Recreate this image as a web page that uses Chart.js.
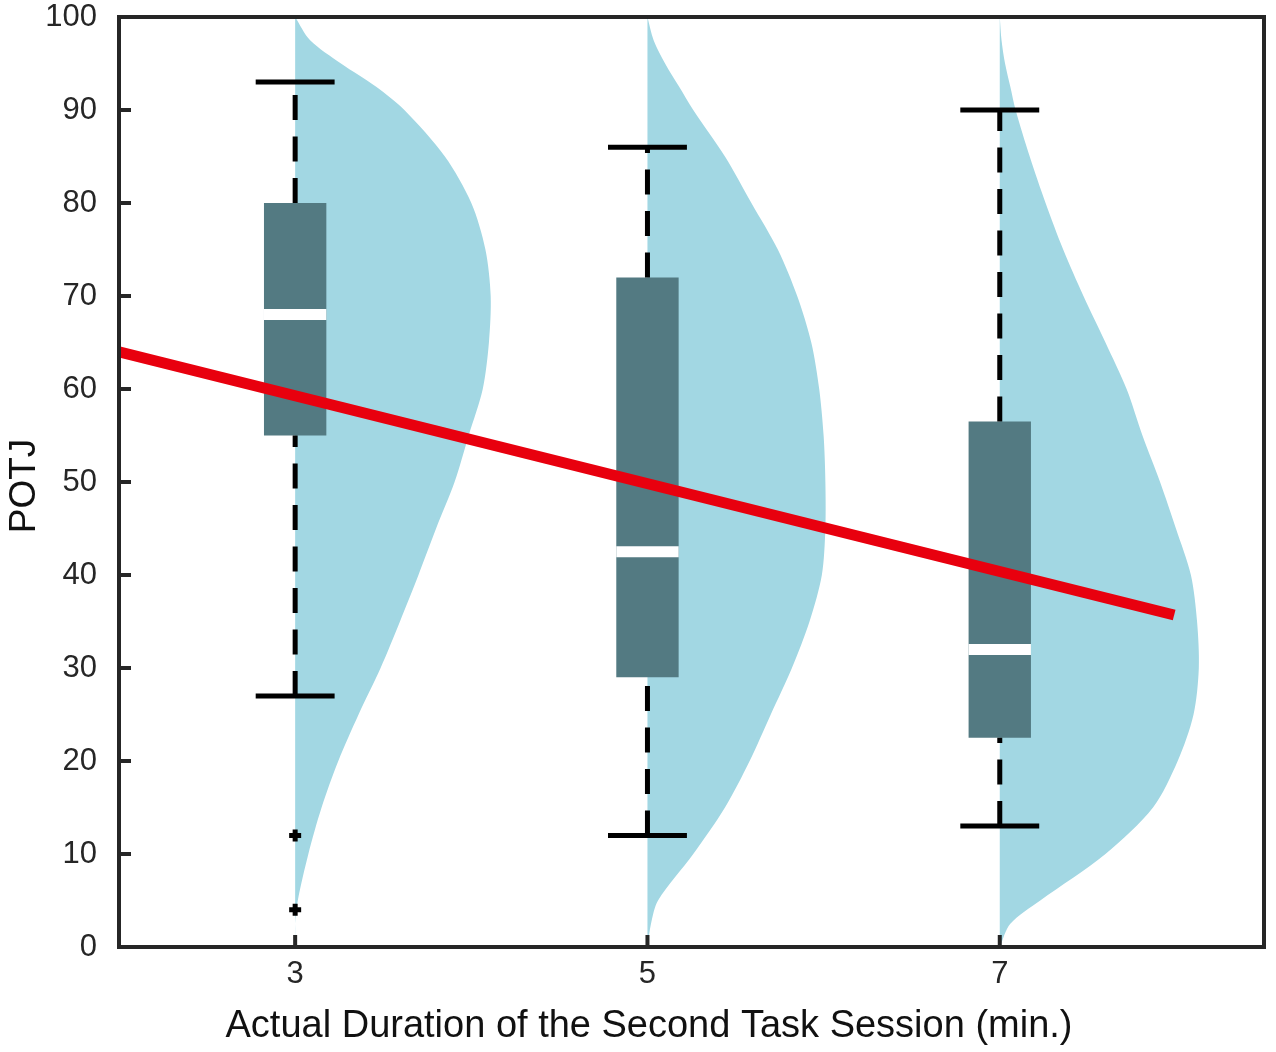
<!DOCTYPE html>
<html>
<head>
<meta charset="utf-8">
<script src="https://cdn.jsdelivr.net/npm/chart.js@4.4.1/dist/chart.umd.min.js"></script>
<style>
    html, body { margin: 0; padding: 0; background: #fff; }
    #wrap { width: 1276px; height: 1052px; }
</style>
</head>
<body>
<div id="wrap"><canvas id="grafico"></canvas></div>
<script>
// categorias (duração em min.)
const duracoes = [3, 5, 7];

// boxplot
const q1 = [55, 29, 22.5];
const q3 = [80, 72, 56.5];
const medianas = [68, 42.5, 32];
const bigodeMin = [27, 12, 13];
const bigodeMax = [93, 86, 90];
const outliersX = [3, 3];
const outliersY = [12, 4];

// meio-violino: largura (em unidades do eixo x) em cada nível de POTJ
const niveis = [0, 2.5, 5, 10, 15, 20, 25, 30, 35, 40, 45, 50, 55, 60, 65, 70, 75, 80, 85, 90, 92.5, 95, 97.5, 100];
const violino3 = [0, 0, 0.015, 0.075, 0.15, 0.245, 0.36, 0.485, 0.595, 0.70, 0.80, 0.905, 0.985, 1.065, 1.10, 1.11, 1.08, 1.0, 0.85, 0.62, 0.46, 0.26, 0.085, 0];
const violino5 = [0, 0.02, 0.06, 0.26, 0.44, 0.58, 0.70, 0.82, 0.92, 0.99, 1.01, 1.01, 1.00, 0.975, 0.93, 0.85, 0.74, 0.59, 0.44, 0.26, 0.18, 0.10, 0.035, 0];
const violino7 = [0, 0.06, 0.23, 0.60, 0.87, 1.01, 1.10, 1.13, 1.12, 1.085, 1.00, 0.91, 0.81, 0.72, 0.60, 0.475, 0.36, 0.26, 0.17, 0.09, 0.06, 0.03, 0.01, 0];
const violinos = [violino3, violino5, violino7];

// reta de tendência
const tendenciaX = [2, 7.99];
const tendenciaY = [64.0, 35.7];

const yTicks = [0, 10, 20, 30, 40, 50, 60, 70, 80, 90, 100];
const tituloX = 'Actual Duration of the Second Task Session (min.)';
const tituloY = 'POTJ';

const corViolino = '#a2d7e3';
const corCaixa = '#537a82';
const corEixo = '#262626';
const fonte = '"Liberation Sans", Arial, Helvetica, sans-serif';
const meiaCaixa = 0.177;
const meiaTampa = 0.224;
const tracejado = [25, 16.5];

function linha(pts, cor, largura, extra) {
    return Object.assign({
        type: 'line',
        data: pts,
        showLine: true,
        borderColor: cor,
        borderWidth: largura,
        borderCapStyle: 'butt',
        pointRadius: 0,
        fill: false,
        tension: 0
    }, extra || {});
}

function montaDatasets() {
    let ds = [];

    // tendência por cima de tudo
    ds.push(linha(tendenciaX.map((x, i) => ({ x: x, y: tendenciaY[i] })), '#e8000e', 11, { order: 0 }));

    ds.push({
        type: 'scatter',
        data: outliersX.map((x, i) => ({ x: x, y: outliersY[i] })),
        pointStyle: 'cross',
        pointRadius: 6,
        borderColor: '#000',
        pointBorderWidth: 5,
        order: 1
    });

    duracoes.forEach((c, i) => {
        ds.push(linha([{ x: c, y: q3[i] }, { x: c, y: bigodeMax[i] }], '#000', 5, { borderDash: tracejado, order: 2 }));
        ds.push(linha([{ x: c, y: bigodeMin[i] }, { x: c, y: q1[i] }], '#000', 5, { borderDash: tracejado, order: 2 }));
        ds.push(linha([{ x: c - meiaTampa, y: bigodeMax[i] }, { x: c + meiaTampa, y: bigodeMax[i] }], '#000', 5, { order: 2 }));
        ds.push(linha([{ x: c - meiaTampa, y: bigodeMin[i] }, { x: c + meiaTampa, y: bigodeMin[i] }], '#000', 5, { order: 2 }));

        ds.push(linha([{ x: c - meiaCaixa, y: medianas[i] }, { x: c + meiaCaixa, y: medianas[i] }], '#fff', 11, { order: 3 }));

        ds.push(linha([
            { x: c - meiaCaixa, y: q1[i] },
            { x: c + meiaCaixa, y: q1[i] },
            { x: c + meiaCaixa, y: q3[i] },
            { x: c - meiaCaixa, y: q3[i] }
        ], corCaixa, 0, { fill: 'shape', backgroundColor: corCaixa, order: 4 }));

        ds.push(linha(niveis.map((y, k) => ({ x: c + violinos[i][k], y: y })), corViolino, 0,
            { fill: 'shape', backgroundColor: corViolino, tension: 0.3, order: 5 }));
    });
    return ds;
}

// moldura, marcas internas dos eixos e títulos
const moldura = {
    id: 'moldura',
    afterDraw(chart) {
        const ctx = chart.ctx;
        const a = chart.chartArea;
        ctx.save();
        ctx.strokeStyle = corEixo;
        ctx.lineWidth = 4;
        ctx.beginPath();
        duracoes.forEach(v => {
            const px = chart.scales.x.getPixelForValue(v);
            ctx.moveTo(px, a.bottom);
            ctx.lineTo(px, a.bottom - 12);
        });
        yTicks.forEach(v => {
            const py = chart.scales.y.getPixelForValue(v);
            ctx.moveTo(a.left, py);
            ctx.lineTo(a.left + 12, py);
        });
        ctx.stroke();
        ctx.strokeRect(a.left, a.top, a.right - a.left, a.bottom - a.top);

        ctx.fillStyle = '#111';
        ctx.font = '38px ' + fonte;
        ctx.textAlign = 'center';
        ctx.textBaseline = 'alphabetic';
        ctx.fillText(tituloX, 649, 1037);

        ctx.font = '37px ' + fonte;
        ctx.translate(35, 486);
        ctx.rotate(-Math.PI / 2);
        ctx.fillText(tituloY, 0, 0);
        ctx.restore();
    }
};

document.addEventListener("DOMContentLoaded", () => {
    new Chart(document.getElementById("grafico"), {
        type: 'scatter',
        data: { datasets: montaDatasets() },
        options: {
            responsive: true,
            maintainAspectRatio: false,
            animation: false,
            events: [],
            layout: { padding: { top: 0, right: 12, left: 0, bottom: 0 } },
            plugins: {
                legend: { display: false },
                tooltip: { enabled: false }
            },
            scales: {
                x: {
                    type: 'linear',
                    min: 2,
                    max: 8.5,
                    grid: { display: false, drawTicks: false },
                    border: { display: false },
                    afterBuildTicks: s => { s.ticks = duracoes.map(v => ({ value: v })); },
                    afterFit: s => { s.height = 105; s.paddingLeft = 0; s.paddingRight = 0; },
                    ticks: { color: corEixo, padding: 9, font: { family: fonte, size: 31 } }
                },
                y: {
                    min: 0,
                    max: 100,
                    grid: { display: false, drawTicks: false },
                    border: { display: false },
                    afterBuildTicks: s => { s.ticks = yTicks.map(v => ({ value: v })); },
                    afterFit: s => { s.width = 119; s.paddingTop = 17; s.paddingBottom = 0; },
                    ticks: { color: corEixo, padding: 22, font: { family: fonte, size: 31 } }
                }
            }
        },
        plugins: [moldura]
    });
});
</script>
</body>
</html>
